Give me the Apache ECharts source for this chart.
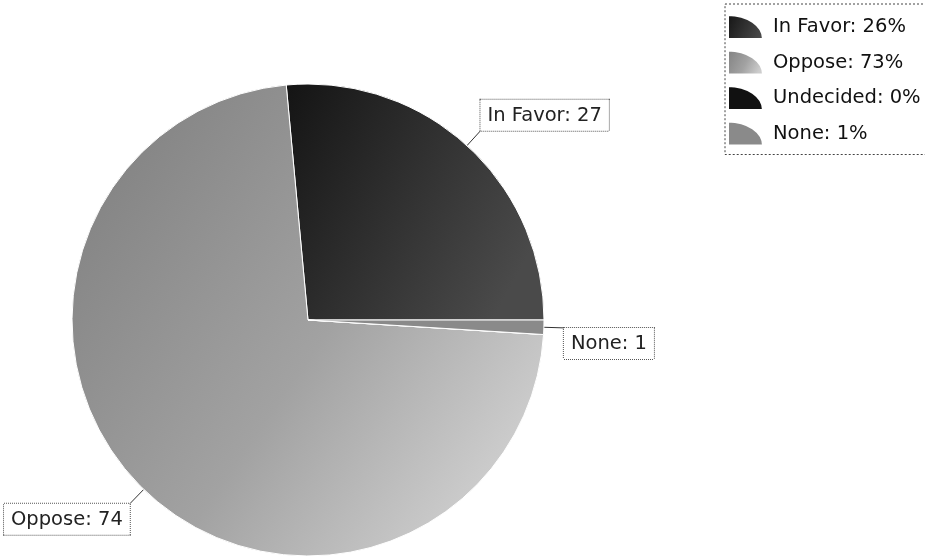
<!DOCTYPE html>
<html>
<head>
<meta charset="utf-8">
<script src="https://cdn.jsdelivr.net/npm/echarts@6/dist/echarts.min.js"></script>
<style>
html,body{margin:0;padding:0;background:#fff;}
#c{width:925px;height:558px;}
</style>
</head>
<body>
<div id="c"></div>
<script>
var categories = ['In Favor', 'Oppose', 'Undecided', 'None'];
var values = [27, 74, 0, 1];
var legendPercents = ['26%', '73%', '0%', '1%'];

var colors = [
  {type:'linear', x:0, y:0, x2:1, y2:0.6, colorStops:[{offset:0,color:'#141414'},{offset:1,color:'#4a4a4a'}]},
  {type:'linear', x:0, y:0.3, x2:0.85, y2:0.9, colorStops:[{offset:0,color:'#858585'},{offset:0.55,color:'#a2a2a2'},{offset:1,color:'#cdcdcd'}]},
  '#111111',
  '#8a8a8a'
];

var chart = echarts.init(document.getElementById('c'));
var data = categories.map(function(n, i){
  var d = {name:n, value:values[i], itemStyle:{color:colors[i]}};
  if (values[i] === 0) { d.label = {show:false}; d.labelLine = {show:false}; }
  return d;
});

chart.setOption({
  animation:false,
  backgroundColor:'#fff',
  legend:{
    orient:'vertical',
    left:725, top:4,
    padding:[10,40,8,2],
    itemWidth:35, itemHeight:24, itemGap:9.5,
    borderColor:'#444', borderWidth:1, borderType:[2,2],
    icon:'path://M0 0 A35 24 0 0 1 35 24 L0 24 Z',
    textStyle:{fontFamily:'DejaVu Sans', fontSize:19.5, color:'#111', padding:[0,0,0,5]},
    formatter:function(name){ return name + ': ' + legendPercents[categories.indexOf(name)]; },
    data:categories
  },
  series:[{
    type:'pie',
    center:[308,320],
    radius:236,
    startAngle:0,
    clockwise:false,
    avoidLabelOverlap:false,
    itemStyle:{borderColor:'#fff', borderWidth:1},
    label:{
      show:true,
      formatter:'{b}: {c}',
      fontFamily:'DejaVu Sans', fontSize:19.5, color:'#222',
      backgroundColor:'#fff',
      borderColor:'#555', borderWidth:1, borderType:[1,1],
      padding:[6,7,5,7]
    },
    labelLine:{show:true, length:20, length2:0, lineStyle:{color:'#333', width:1}},
    labelLayout:function(p){
      var pts = p.labelLinePoints;
      if (!pts) return {};
      var s = pts[0], e = pts[1];
      return {
        x:e[0], y:e[1],
        align: e[0] >= s[0] ? 'left' : 'right',
        verticalAlign: e[1] < s[1] ? 'bottom' : 'top',
        labelLinePoints:[s, e, e]
      };
    },
    emphasis:{disabled:true},
    data:data
  }]
});
</script>
</body>
</html>
